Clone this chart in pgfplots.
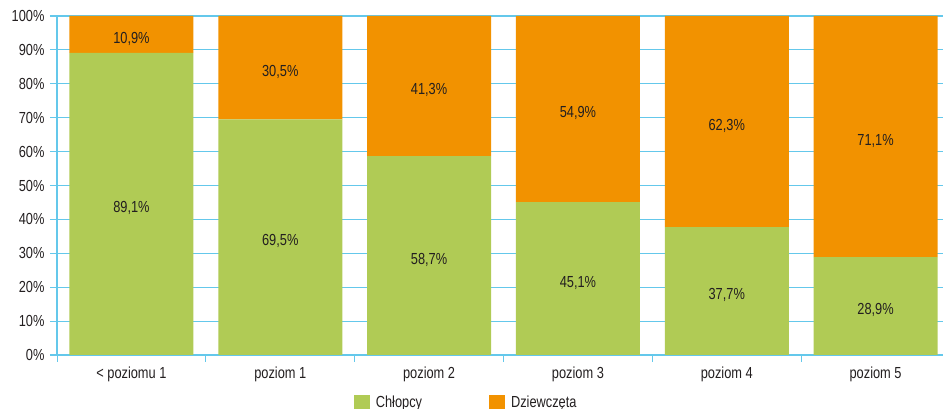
\documentclass[border=0pt]{standalone}
\usepackage{pgfplots}
\pgfplotsset{compat=1.18}
\usepackage{fontspec}
\setmainfont{Liberation Sans}[FakeStretch=0.8]
\definecolor{cgreen}{RGB}{176,203,85}
\definecolor{corange}{RGB}{242,146,0}
\definecolor{cgrid}{RGB}{100,200,235}
\definecolor{ctext}{RGB}{35,31,32}
\pgfplotstableread{
x g o
0 89.1 10.9
1 69.5 30.5
2 58.7 41.3
3 45.1 54.9
4 37.7 62.3
5 28.9 71.1
}\data
\begin{document}
\begin{tikzpicture}
\begin{axis}[
  at={(0,0)}, anchor=south west,
  scale only axis, width=893bp, height=339bp,
  ybar stacked, bar width=124bp,
  xmin=-0.5, xmax=5.5, ymin=0, ymax=100,
  xtick={0,...,5},
  xticklabels={{< poziomu 1},{poziom 1},{poziom 2},{poziom 3},{poziom 4},{poziom 5}},
  major x tick style={draw=none},
  minor xtick={-0.5,0.5,1.5,2.5,3.5,4.5},
  minor x tick style={draw=cgrid, line width=1pt},
  major y tick style={draw=cgrid, line width=1.2pt},
  ytick={0,10,...,100},
  yticklabel={\pgfmathprintnumber{\tick}\%},
  /pgf/number format/assume math mode=true,
  ymajorgrids, major grid style={draw=cgrid, line width=1.2pt},
  axis x line*=bottom, axis y line*=left,
  axis line style={draw=cgrid, line width=1.2pt},
  tick align=outside,
  major tick length=7bp, minor tick length=7bp,
  ticklabel style={font=\fontsize{16bp}{18bp}\selectfont, text=ctext},
  yticklabel style={xshift=-2bp},
  xticklabel style={yshift=-1bp},
  nodes near coords={\pgfmathprintnumber[fixed,fixed zerofill,precision=1,use comma]{\pgfplotspointmeta}\%},
  every node near coord/.append style={anchor=center, yshift=-4bp, font=\fontsize{16bp}{18bp}\selectfont, text=ctext},
  legend style={at={(axis description cs:0.4582,-0.139)}, anchor=center, draw=none, fill=none,
    legend columns=2, font=\fontsize{16bp}{18bp}\selectfont, text=ctext,
    /tikz/every even column/.append style={column sep=65bp}},
  legend image code/.code={\fill[#1] (0bp,-7bp) rectangle (16bp,7bp); \path (20bp,0bp);},
]
\addplot[fill=cgreen, draw=none] table[x=x, y=g] {\data};
\addlegendentry{Chłopcy}
\addplot[fill=corange, draw=none] table[x=x, y=o] {\data};
\addlegendentry{Dziewczęta}
\end{axis}
\pgfresetboundingbox
\useasboundingbox (-57bp,-54bp) rectangle (886bp,355bp);
\end{tikzpicture}
\end{document}
